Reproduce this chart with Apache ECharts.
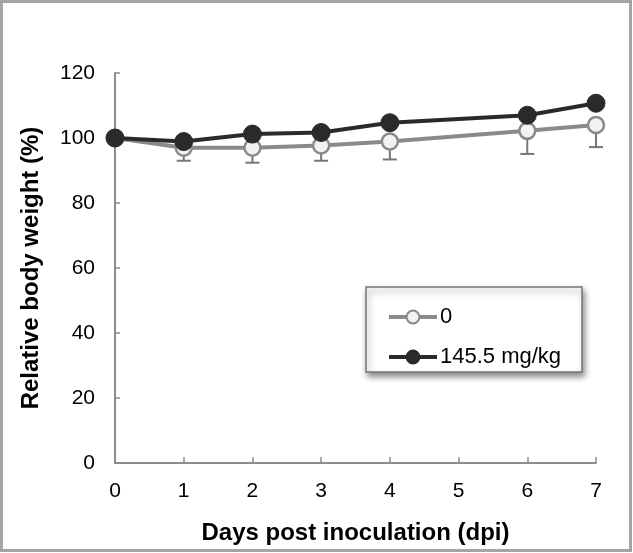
<!DOCTYPE html>
<html><head><meta charset="utf-8">
<script src="https://cdn.jsdelivr.net/npm/echarts@6/dist/echarts.min.js"></script>
<style>html,body{margin:0;padding:0;background:#fff}#c{width:633px;height:553px}</style>
</head><body><div id="c"></div>
<script>
var days = [0, 1, 2, 3, 4, 6, 7];
var ctrlName = '0';
var doseName = '145.5 mg/kg';
var ctrlMean = [100, 97, 97, 97.7, 98.9, 102.2, 104];
var ctrlLower = [100, 93, 92.4, 93, 93.4, 95.1, 97.2];
var doseMean = [100, 98.9, 101.2, 101.7, 104.7, 107, 110.7];
var xTicks = [0, 1, 2, 3, 4, 5, 6, 7];
var yTicks = [0, 20, 40, 60, 80, 100, 120];

var chart = echarts.init(document.getElementById('c'));
var FONT = '"Liberation Sans", Arial, sans-serif';
function pairs(xs, ys){ return xs.map(function(x,i){ return [x, ys[i]]; }); }
var errData = days.map(function(d,i){ return [d, ctrlMean[i], ctrlLower[i]]; });

chart.setOption({
  animation: false,
  backgroundColor: '#fff',
  grid: {left: 115, right: 37, top: 73, bottom: 90},
  graphic: [
    {type: 'rect', shape: {x: 1.5, y: 1.5, width: 629, height: 549}, style: {fill: 'none', stroke: '#a5a5a5', lineWidth: 3}, z: 0},
    {type: 'rect', shape: {x: 366, y: 287, width: 216, height: 85}, style: {fill: '#fff', stroke: '#777', lineWidth: 1.5, shadowBlur: 6, shadowOffsetX: 2, shadowOffsetY: 4, shadowColor: 'rgba(0,0,0,0.45)'}, z: 5}
  ],
  legend: {
    orient: 'vertical', left: 382, top: 301, itemGap: 18, itemWidth: 48, itemHeight: 16,
    textStyle: {fontFamily: FONT, fontSize: 22, lineHeight: 22, color: '#000', padding: [0,0,0,-2]},
    lineStyle: {width: 4},
    z: 10,
    data: [ctrlName, doseName]
  },
  xAxis: {
    type: 'value', min: 0, max: 7, interval: 1,
    name: 'Days post inoculation (dpi)', nameLocation: 'middle', nameGap: 58,
    nameTextStyle: {fontFamily: FONT, fontSize: 24, fontWeight: 'bold', color: '#000'},
    axisLine: {lineStyle: {color: '#8c8c8c', width: 2}},
    axisTick: {inside: true, length: 6, lineStyle: {color: '#8c8c8c', width: 1.5}},
    splitLine: {show: false},
    axisLabel: {fontFamily: FONT, fontSize: 21, color: '#000', margin: 18,
      formatter: function(v){ return xTicks.indexOf(v) >= 0 ? String(v) : ''; }}
  },
  yAxis: {
    type: 'value', min: 0, max: 120, interval: 20,
    name: 'Relative body weight (%)', nameLocation: 'middle', nameGap: 72,
    nameTextStyle: {fontFamily: FONT, fontSize: 24, fontWeight: 'bold', color: '#000'},
    axisLine: {show: true, lineStyle: {color: '#8c8c8c', width: 2}},
    axisTick: {show: true, inside: true, length: 5, lineStyle: {color: '#8c8c8c', width: 1.5}},
    splitLine: {show: false},
    axisLabel: {fontFamily: FONT, fontSize: 21, color: '#000', margin: 20,
      formatter: function(v){ return yTicks.indexOf(v) >= 0 ? String(v) : ''; }}
  },
  series: [
    {
      type: 'custom', name: 'err', z: 1, silent: true,
      renderItem: function(params, api){
        var x = api.value(0);
        var top = api.coord([x, api.value(1)]);
        var bot = api.coord([x, api.value(2)]);
        var hw = 7;
        return {type: 'group', children: [
          {type: 'line', shape: {x1: top[0], y1: top[1], x2: bot[0], y2: bot[1]}, style: {stroke: '#777', lineWidth: 2}},
          {type: 'line', shape: {x1: bot[0]-hw, y1: bot[1], x2: bot[0]+hw, y2: bot[1]}, style: {stroke: '#777', lineWidth: 2}}
        ]};
      },
      data: errData
    },
    {
      type: 'line', name: ctrlName, z: 2,
      data: pairs(days, ctrlMean),
      symbol: 'circle', symbolSize: 16,
      lineStyle: {color: '#8a8a8a', width: 4},
      itemStyle: {color: '#f2f2f2', borderColor: '#8a8a8a', borderWidth: 2.5}
    },
    {
      type: 'line', name: doseName, z: 3,
      data: pairs(days, doseMean),
      symbol: 'circle', symbolSize: 18,
      lineStyle: {color: '#2a2a2a', width: 4},
      itemStyle: {color: '#2a2a2a', borderColor: '#2a2a2a', borderWidth: 1}
    }
  ]
});
</script></body></html>
